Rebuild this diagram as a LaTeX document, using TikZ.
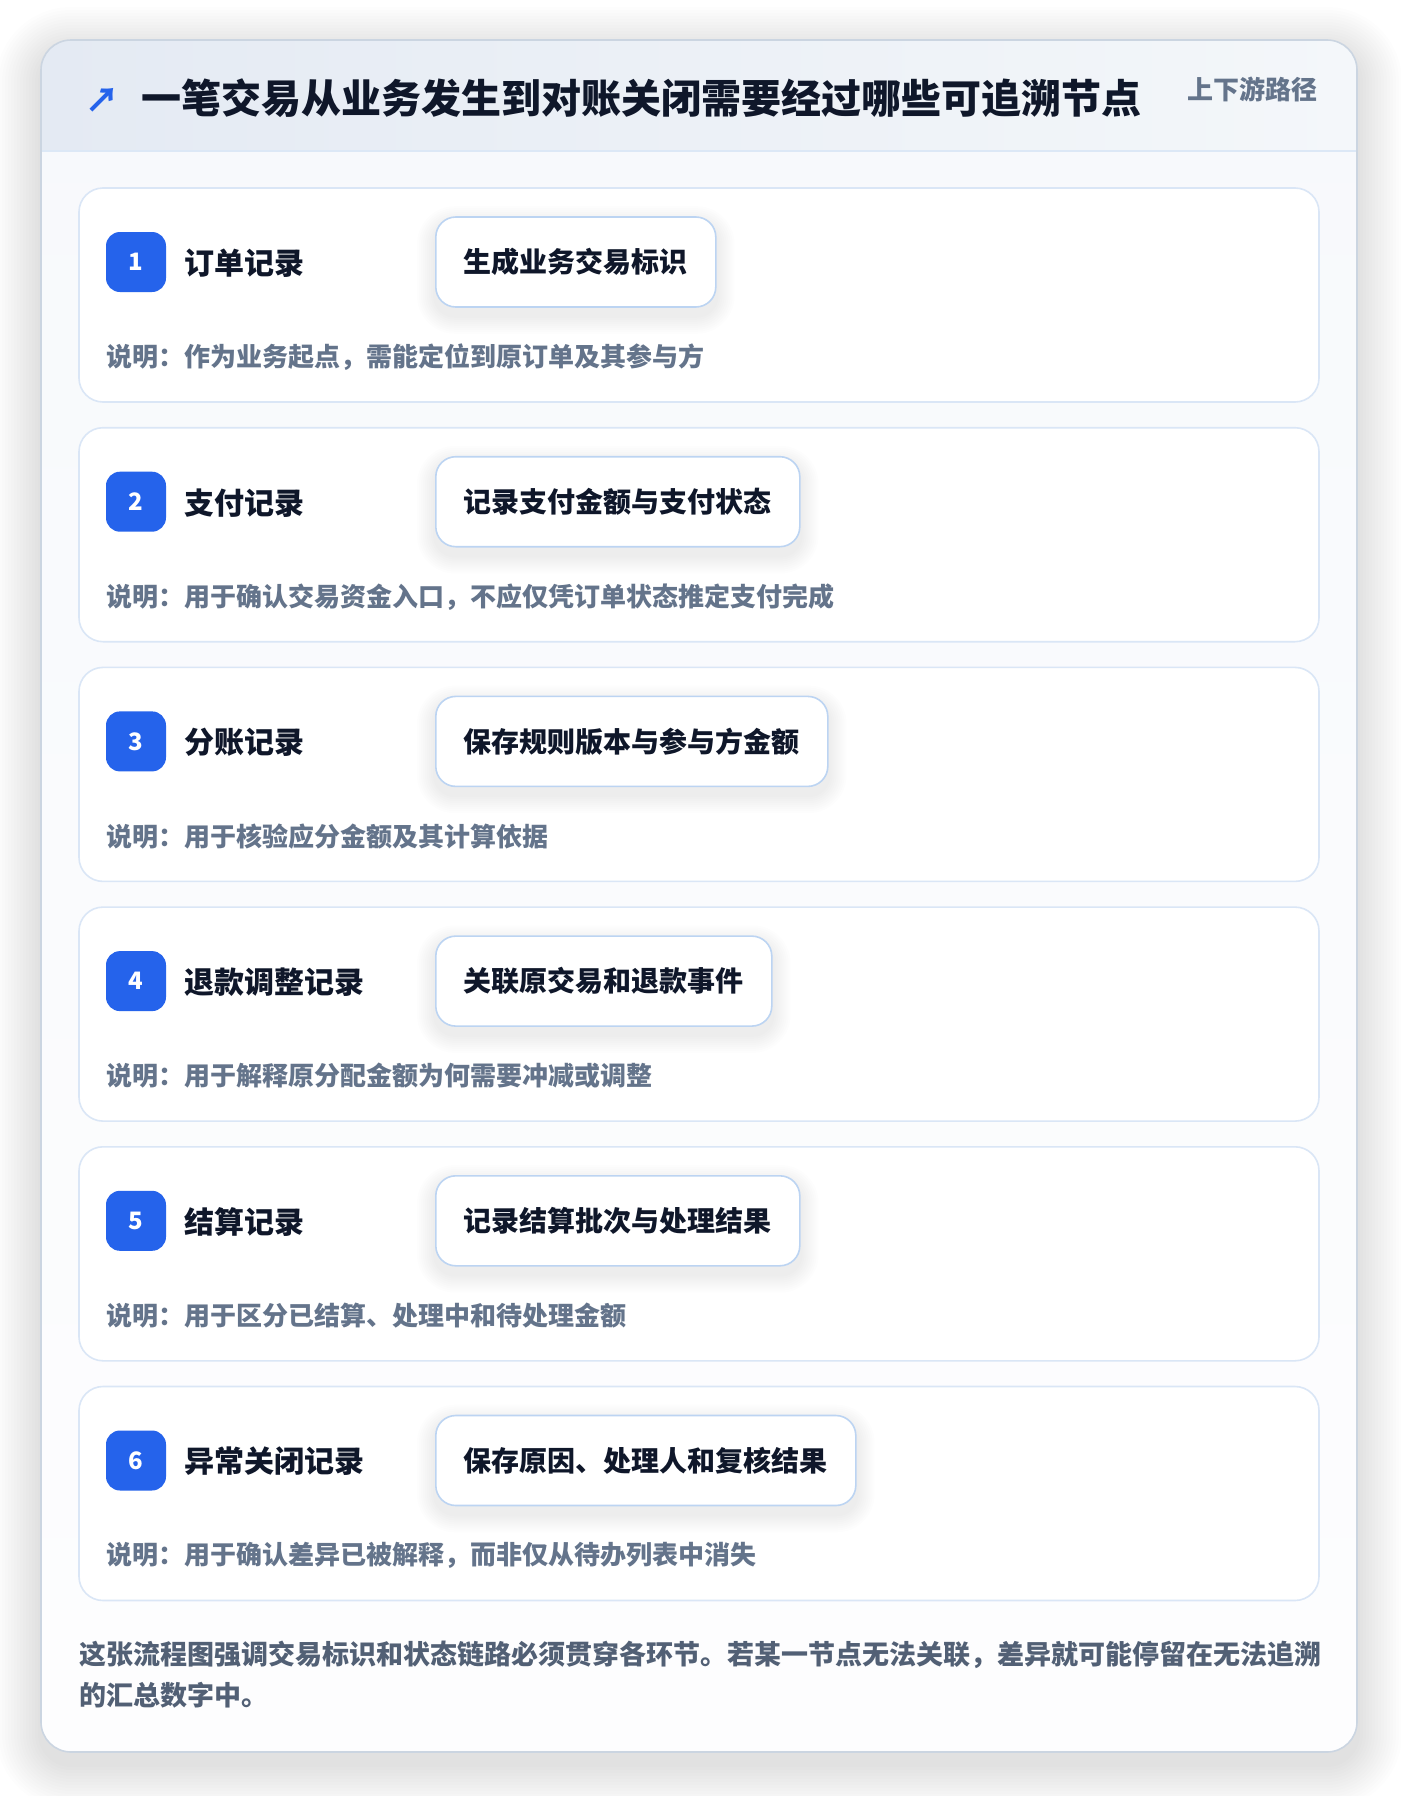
\documentclass[tikz,border=0pt]{standalone}
\usepackage{fontspec}
\setmainfont{Noto Sans CJK SC}
\definecolor{accent}{HTML}{2563EB}
\definecolor{ink}{HTML}{0F172A}
\definecolor{muted}{HTML}{64748B}
\definecolor{footink}{HTML}{526075}
\definecolor{cardline}{HTML}{DAE6F6}
\definecolor{pillline}{HTML}{BCD4F2}
\definecolor{outerline}{HTML}{CBD5E1}
\definecolor{paneltop}{HTML}{F7F9FC}
\definecolor{panelbot}{HTML}{FDFDFE}
\definecolor{hdrL}{HTML}{E4EAF3}
\definecolor{hdrR}{HTML}{F4F7FA}
\definecolor{hdrline}{HTML}{DCE8F6}
\pgfdeclarelayer{bglayer}
\pgfdeclarelayer{shadlayer}
\pgfsetlayers{bglayer,shadlayer,main}
\tikzset{
  cardbox/.style={draw=cardline, line width=1.6pt, fill=white, rounded corners=24pt,
    minimum width=1240pt, minimum height=214pt, inner sep=0pt},
  badgebox/.style={fill=accent, rounded corners=14pt, minimum size=60pt, inner sep=0pt,
    text=white, font=\fontsize{24}{28}\selectfont\bfseries},
  labeltext/.style={anchor=west, inner sep=0pt, text=ink, font=\fontsize{30}{36}\selectfont\bfseries},
  pillbox/.style={anchor=west, draw=pillline, line width=1.6pt, fill=white, rounded corners=20pt,
    minimum height=90pt, inner xsep=28pt, inner ysep=0pt, text=ink,
    font=\fontsize{28}{34}\selectfont\bfseries},
  desctext/.style={anchor=west, inner sep=0pt, text=muted, font=\fontsize{26}{30}\selectfont\bfseries},
  foottext/.style={anchor=west, inner sep=0pt, text=footink, font=\fontsize{27}{32}\selectfont\bfseries},
  shadowlayer/.style={fill=black, opacity=0.007},
}
\newcommand{\stepcard}[5]{%
  \begin{pgfonlayer}{bglayer}
    \node[cardbox] (card#1) at (699,{#2+107}) {};
  \end{pgfonlayer}
  \node[badgebox] (badge#1) at (136,{#2+74}) {#1};
  \node[labeltext] (label#1) at (184,{#2+75}) {#3};
  \node[pillbox] (pill#1) at (435,{#2+74}) {#4};
  \begin{pgfonlayer}{shadlayer}
    \foreach \e in {2,4,...,18} {
      \pgfmathsetmacro{\rr}{20+\e}
      \fill[shadowlayer, rounded corners=\rr pt]
        ([xshift=-\e pt, yshift={-(8-\e)*1pt}]pill#1.north west) rectangle
        ([xshift=\e pt, yshift={-(8+\e)*1pt}]pill#1.south east);
    }
  \end{pgfonlayer}
  \node[desctext] (desc#1) at (106,{#2+169}) {#5};
}
\begin{document}
\begin{tikzpicture}[x=1pt,y=-1pt]
\useasboundingbox (0,0) rectangle (1400,1796);
\begin{pgfonlayer}{bglayer}
\fill[white] (0,0) rectangle (1400,1796);
% soft outer shadow
\foreach \e in {3,6,...,45} {
  \pgfmathsetmacro{\rr}{30+\e}
  \fill[black, opacity=0.0065, rounded corners=\rr pt] ({41-\e},{52-\e}) rectangle ({1357+\e},{1764+\e});
}
% outer card
\begin{scope}
  \clip[rounded corners=30pt] (41,40) rectangle (1357,1752);
  \shade[top color=paneltop, bottom color=panelbot] (41,40) rectangle (1357,1752);
  \shade[left color=hdrL, right color=hdrR] (41,40) rectangle (1357,151);
  \draw[hdrline, line width=2pt] (41,151) -- (1357,151);
\end{scope}
\draw[outerline, line width=1.6pt, rounded corners=30pt] (41,40) rectangle (1357,1752);
\end{pgfonlayer}
% header
\node[inner sep=0pt, text=accent, font=\fontsize{34}{38}\selectfont\bfseries] (icon) at (102,100) {↗};
\node[anchor=west, inner sep=0pt, text=ink, font=\fontsize{40}{48}\selectfont\bfseries] (title) at (141,98) {一笔交易从业务发生到对账关闭需要经过哪些可追溯节点};
\node[anchor=west, inner sep=0pt, text=muted, font=\fontsize{26}{30}\selectfont\bfseries] (tag) at (1187,89) {上下游路径};
% cards
\stepcard{1}{188.0}{订单记录}{生成业务交易标识}{说明：作为业务起点，需能定位到原订单及其参与方}
\stepcard{2}{427.7}{支付记录}{记录支付金额与支付状态}{说明：用于确认交易资金入口，不应仅凭订单状态推定支付完成}
\stepcard{3}{667.4}{分账记录}{保存规则版本与参与方金额}{说明：用于核验应分金额及其计算依据}
\stepcard{4}{907.1}{退款调整记录}{关联原交易和退款事件}{说明：用于解释原分配金额为何需要冲减或调整}
\stepcard{5}{1146.8}{结算记录}{记录结算批次与处理结果}{说明：用于区分已结算、处理中和待处理金额}
\stepcard{6}{1386.5}{异常关闭记录}{保存原因、处理人和复核结果}{说明：用于确认差异已被解释，而非仅从待办列表中消失}
% footer
\node[foottext] (foot1) at (79,1655) {这张流程图强调交易标识和状态链路必须贯穿各环节。若某一节点无法关联，差异就可能停留在无法追溯};
\node[foottext] (foot2) at (79,1695) {的汇总数字中。};
\end{tikzpicture}
\end{document}
